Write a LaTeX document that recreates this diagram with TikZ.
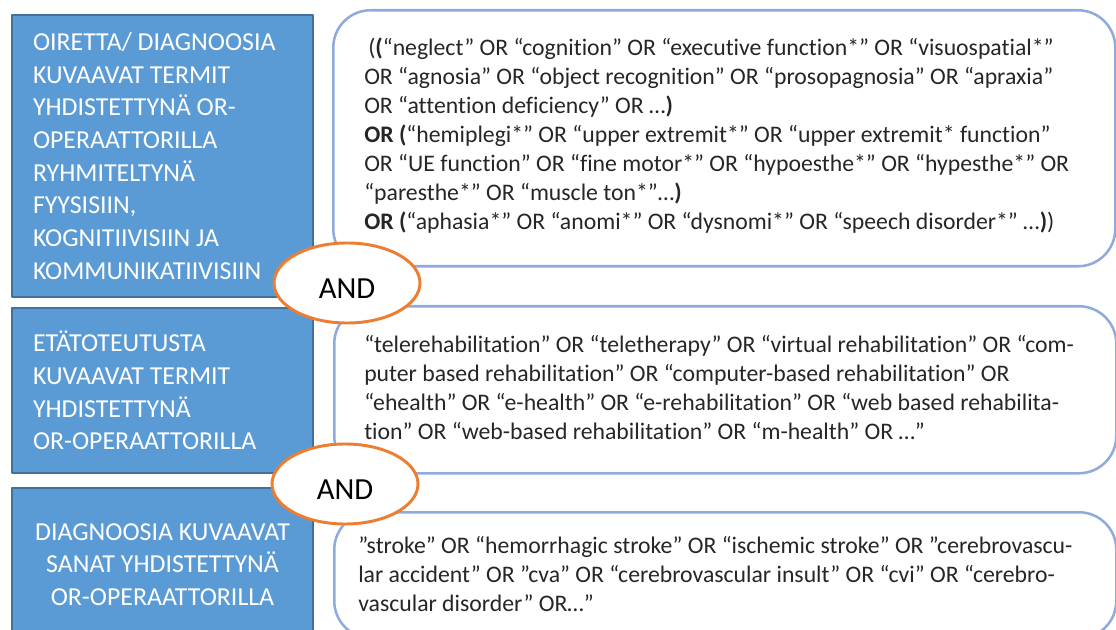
\documentclass[tikz,border=0pt]{standalone}
\usepackage{fontspec}
\setmainfont{Carlito}[Ligatures={CommonOff}]
\usetikzlibrary{shapes.geometric}
\definecolor{boxblue}{HTML}{5B9BD5}
\definecolor{boxedge}{HTML}{41719C}
\definecolor{queryedge}{HTML}{8FAADC}
\definecolor{andedge}{HTML}{ED7D31}
\begin{document}
\begin{tikzpicture}[x=0.75pt,y=-0.75pt,line join=round,
  termbox/.style={draw=boxedge,fill=boxblue,line width=1.5pt,text=white,anchor=north west,
    minimum width=225.75pt,inner xsep=15.75pt,inner ysep=0pt,text width=194.25pt,
    font=\fontsize{19.4}{24.5}\selectfont},
  querybox/.style={draw=queryedge,fill=white,line width=1.9pt,rounded corners=28pt,anchor=north west,
    minimum width=586.5pt,inner sep=0pt},
  querytext/.style={anchor=west,align=left,inner sep=0pt,text=black!85,
    font=\fontsize{17.8}{21.75}\selectfont},
  andring/.style={ellipse,draw=andedge,fill=white,line width=2.2pt,minimum width=109.5pt,
    minimum height=60pt,inner sep=0pt},
  andtext/.style={inner sep=0pt,font=\fontsize{23}{27}\selectfont}]
\useasboundingbox (0,0) rectangle (1116,630);
\node[termbox,minimum height=211.5pt,align=flush left] (t1) at (11,14) {OIRETTA/ DIAGNOOSIA\\KUVAAVAT TERMIT\\YHDISTETTYNÄ OR-\\OPERAATTORILLA\\RYHMITELTYNÄ\\FYYSISIIN,\\KOGNITIIVISIIN JA\\KOMMUNIKATIIVISIIN};
\node[termbox,minimum height=123.75pt,align=flush left] (t2) at (11,307) {ETÄTOTEUTUSTA\\KUVAAVAT TERMIT\\YHDISTETTYNÄ\\OR-OPERAATTORILLA};
\node[termbox,minimum height=114.75pt,align=flush center] (t3) at (11,487) {DIAGNOOSIA KUVAAVAT\\SANAT YHDISTETTYNÄ\\OR-OPERAATTORILLA};
\node[querybox,minimum height=192pt] (q1) at (332,9) {};
\node[querytext] (q1text) at ([xshift=24pt,yshift=2pt]q1.west) {\hspace{3pt}(\textbf{(}“neglect” OR “cognition” OR “executive function*” OR “visuospatial*”\\OR “agnosia” OR “object recognition” OR “prosopagnosia” OR “apraxia”\\OR “attention deficiency” OR …\textbf{)}\\\textbf{OR (}“hemiplegi*” OR “upper extremit*” OR “upper extremit* function”\\OR “UE function” OR “fine motor*” OR “hypoesthe*” OR “hypesthe*” OR\\“paresthe*” OR “muscle ton*”…\textbf{)}\\\textbf{OR (}“aphasia*” OR “anomi*” OR “dysnomi*” OR “speech disorder*” …\textbf{)})};
\node[querybox,minimum height=125.25pt] (q2) at (333,305) {};
\node[querytext] (q2text) at ([xshift=23.25pt,yshift=1.5pt]q2.west) {“telerehabilitation” OR “teletherapy” OR “virtual rehabilitation” OR “com-\\puter based rehabilitation” OR “computer-based rehabilitation” OR\\“ehealth” OR “e-health” OR “e-rehabilitation” OR “web based rehabilita-\\tion” OR “web-based rehabilitation” OR “m-health” OR …”};
\node[querybox,minimum height=94.5pt] (q3) at (333,511) {};
\node[querytext] (q3text) at ([xshift=18.75pt,yshift=1pt]q3.west) {”stroke” OR “hemorrhagic stroke” OR “ischemic stroke” OR ”cerebrovascu-\\lar accident” OR ”cva” OR “cerebrovascular insult” OR “cvi” OR “cerebro-\\vascular disorder” OR…”};
\node[andring] (and1) at (347,283) {};
\node[andtext] (and1text) at ([yshift=-4.5pt]and1.center) {AND};
\node[andring] (and2) at (345,484) {};
\node[andtext] (and2text) at ([yshift=-4.5pt]and2.center) {AND};
\end{tikzpicture}
\end{document}
